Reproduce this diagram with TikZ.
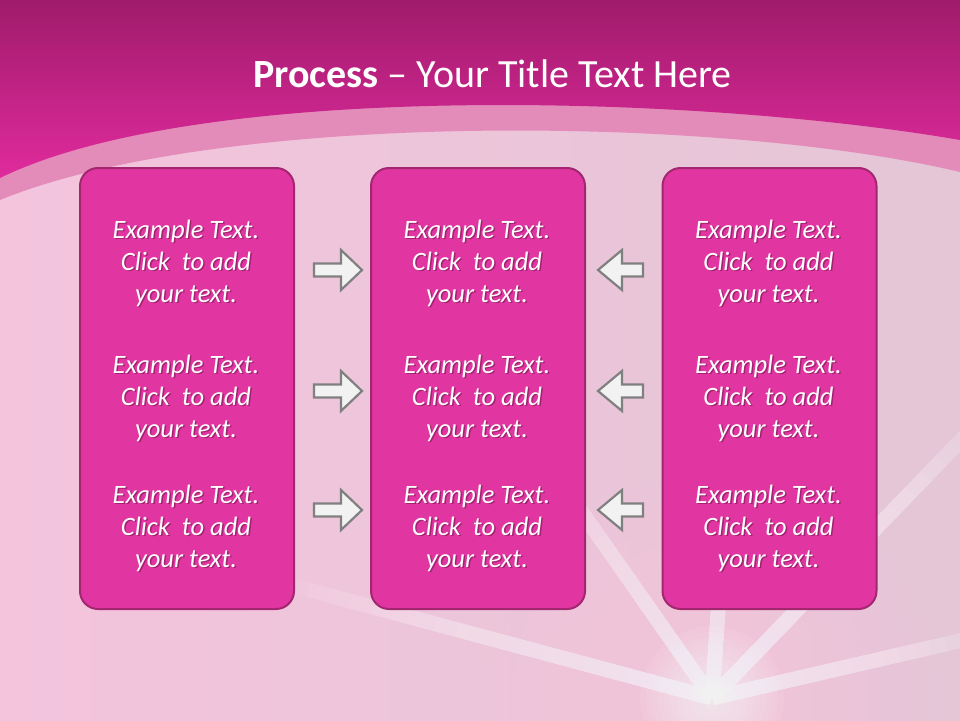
\documentclass[tikz,border=0pt]{standalone}
\usepackage{fontspec}
\setmainfont{Carlito}
\definecolor{topdark}{RGB}{160,27,107}
\definecolor{topmid}{RGB}{224,43,157}
\definecolor{band}{RGB}{227,140,186}
\definecolor{bgleft}{RGB}{244,196,221}
\definecolor{bgright}{RGB}{228,198,214}
\definecolor{boxfill}{RGB}{225,54,161}
\definecolor{boxline}{RGB}{163,38,112}
\definecolor{arrline}{RGB}{128,128,128}
\definecolor{arrfill}{RGB}{242,242,242}
\definecolor{txtshadow}{RGB}{110,18,75}
\definecolor{raycol}{RGB}{255,244,251}
\definecolor{glowpink}{RGB}{255,196,232}
\newcommand{\exampletext}[3]{%
  \node[boxshadow] (#1s) at ({#2+1.5},{#3+1.8}) {Example Text.\\Click\ \ to add\\your text.};
  \node[boxtext] (#1) at (#2,#3) {Example Text.\\Click\ \ to add\\your text.};
}
\begin{document}
\begin{tikzpicture}[x=1pt,y=-1pt,
  procbox/.style={draw=boxline, line width=2pt, fill=boxfill, rounded corners=18pt,
    minimum width=214pt, minimum height=441pt, inner sep=0pt},
  boxtext/.style={text=white, align=center, font=\fontsize{26.5}{32}\selectfont\itshape, inner sep=0pt},
  boxshadow/.style={boxtext, text=txtshadow, text opacity=0.55},
  blockarrow/.style={draw=arrline, fill=arrfill, line width=2.2pt, line join=miter},
  ray/.style={raycol, line width=15pt, opacity=0.07}]
\useasboundingbox (0,0) rectangle (960,720);
\clip (0,0) rectangle (960,720);
% background
\shade[left color=bgleft, right color=bgright] (0,0) rectangle (960,720);
\fill[band] (0,0) -- (960,0) -- (960,172) .. controls (720,115) and (220,110) .. (0,200) -- cycle;
\shade[top color=topdark, bottom color=topmid] (0,0) -- (960,0) -- (960,140) .. controls (700,95) and (200,80) .. (0,178) -- cycle;
% glow and rays
\coordinate (rc) at (712,698);
\foreach \r in {20,40,...,220}{
  \fill[glowpink, opacity=0.06] (rc) circle (\r pt);
}
\foreach \ang/\len in {125/300, 86/240, 46/440, 13/320, 165/440}{
  \foreach \k in {1,...,20}{
    \draw[ray] (rc) -- ++(-\ang:{\len*\k/20});
  }
}
\foreach \r in {6,12,...,72}{
  \fill[white, opacity=0.07] (rc) circle (\r pt);
}
% title
\node[text=white, font=\fontsize{40}{48}\selectfont, anchor=base, inner sep=0pt] (title) at (492.5,87) {\textbf{Process} – Your Title Text Here};
% boxes
\node[procbox] (b1) at (187,388.5) {};
\node[procbox] (b2) at (478,388.5) {};
\node[procbox] (b3) at (769.5,388.5) {};
% texts
\foreach \bx/\bn in {186/1, 477/2, 768.5/3}{
  \foreach \ty/\tn in {263/1, 398/2, 528/3}{
    \exampletext{t\bn\tn}{\bx}{\ty}
  }
}
% arrows
\foreach \cy in {270,391,510}{
  \draw[blockarrow] (314,{\cy-6.5}) -- (341,{\cy-6.5}) -- (341,{\cy-20}) -- (362,\cy)
    -- (341,{\cy+20}) -- (341,{\cy+6.5}) -- (314,{\cy+6.5}) -- cycle;
  \draw[blockarrow] (643,{\cy-6.5}) -- (622,{\cy-6.5}) -- (622,{\cy-20}) -- (598,\cy)
    -- (622,{\cy+20}) -- (622,{\cy+6.5}) -- (643,{\cy+6.5}) -- cycle;
}
\end{tikzpicture}
\end{document}
